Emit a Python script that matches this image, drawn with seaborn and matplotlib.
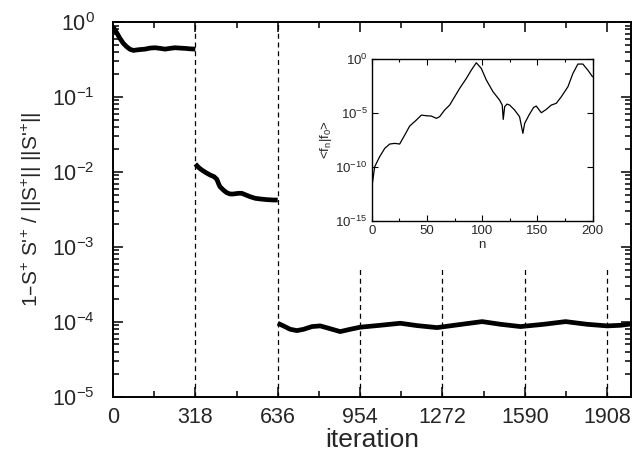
import numpy as np
import pandas as pd
import matplotlib
matplotlib.use("Agg")
import matplotlib.pyplot as plt
import matplotlib.ticker as mticker
import matplotlib.font_manager as fm
import seaborn as sns

sns.set_theme(style="ticks")
plt.rcParams['font.family'] = ['Liberation Sans', 'DejaVu Sans']
plt.rcParams['mathtext.default'] = 'regular'

names = {f.name for f in fm.fontManager.ttflist}
narrow = 'Liberation Sans Narrow' if 'Liberation Sans Narrow' in names else 'Liberation Sans'

# ---- main curve data (three restarts) ----
seg1_iter = [0, 8, 18, 27, 40, 53, 66, 79, 98, 124, 143, 162, 182, 201, 220, 239, 259, 278, 297, 318]
seg1_val = [0.867, 0.782, 0.685, 0.605, 0.52, 0.469, 0.433, 0.419, 0.428, 0.436, 0.45, 0.455,
            0.446, 0.436, 0.446, 0.455, 0.45, 0.446, 0.44, 0.436]

seg2_iter = [318, 330, 343, 359, 375, 390, 401, 407, 413, 426, 439, 452, 465, 484, 497, 510,
             529, 549, 568, 594, 620, 636]
seg2_val = [0.0128, 0.01153, 0.01063, 0.0098, 0.00912, 0.00867, 0.00798, 0.00706, 0.00637,
            0.00575, 0.0053, 0.00509, 0.00509, 0.0052, 0.0052, 0.00499, 0.00469, 0.00446,
            0.00437, 0.00428, 0.00423, 0.00423]

seg3_iter = [636, 658, 684, 710, 736, 768, 800, 832, 877, 916, 954, 1032, 1109, 1174, 1251,
             1328, 1425, 1496, 1573, 1663, 1747, 1830, 1908, 1959, 2000]
seg3_val = [9.6e-5, 8.85e-5, 7.98e-5, 7.66e-5, 7.98e-5, 8.67e-5, 8.85e-5, 8.24e-5, 7.43e-5,
            7.98e-5, 8.5e-5, 9.02e-5, 9.6e-5, 8.93e-5, 8.4e-5, 9.12e-5, 1.01e-4, 9.3e-5,
            8.67e-5, 9.3e-5, 1.01e-4, 9.3e-5, 8.85e-5, 9.02e-5, 9.4e-5]

restarts_full = [318, 636]
restarts_short = [954, 1272, 1590, 1908]
xtick_vals = [0, 318, 636, 954, 1272, 1590, 1908]

# ---- inset data: overlap <f_n|f_0>, given as log10 exponents ----
inset_n = [0.6, 2.7, 7.2, 11.8, 16.3, 20.8, 25.3, 29.9, 34.4, 40.4, 45, 49.5, 54, 58.5, 61.5,
           66, 70.6, 75.1, 79.6, 85.7, 90.2, 94.7, 99.2, 103.8, 109.8, 115.8, 118.2, 119.1,
           120.4, 122.5, 124.9, 129.4, 133.9, 136.9, 138.5, 142.4, 146.6, 149, 153.6, 158.1,
           162.6, 167.1, 171.7, 177.7, 182.2, 186.7, 191.2, 195.7, 200]
inset_log = [-11.51, -9.97, -9.04, -8.27, -7.87, -7.81, -7.87, -7.04, -6.2, -5.65, -5.19,
             -5.25, -5.28, -5.49, -5.34, -4.72, -4.26, -3.49, -2.72, -1.79, -1.02, -0.34,
             -0.86, -1.94, -3.02, -3.8, -4.26, -5.59, -4.41, -4.17, -4.26, -4.72, -5.34,
             -6.88, -5.96, -5.19, -4.48, -4.35, -4.97, -4.66, -4.26, -4.1, -3.49, -2.56,
             -1.33, -0.46, -0.46, -1.02, -1.64]

df1 = pd.DataFrame({"it": seg1_iter, "v": seg1_val})
df2 = pd.DataFrame({"it": seg2_iter, "v": seg2_val})
df3 = pd.DataFrame({"it": seg3_iter, "v": seg3_val})
dfi = pd.DataFrame({"n": inset_n, "ov": 10.0 ** np.array(inset_log)})

fig = plt.figure(figsize=(6.42, 4.51), dpi=100)
ax = fig.add_axes([0.176, 0.120, 0.807, 0.831])

for d in (df1, df2, df3):
    sns.lineplot(data=d, x="it", y="v", ax=ax, color="black", linewidth=3.4,
                 estimator=None, sort=False)
for ln in ax.lines:
    ln.set_solid_joinstyle("round")
    ln.set_solid_capstyle("butt")

ax.set_yscale("log")
ax.set_xlim(0, 2000)
ax.set_ylim(1e-5, 1)

for x in restarts_full:
    ax.axvline(x, color="black", linewidth=0.9, linestyle=(0, (4, 3)))
for x in restarts_short:
    ax.axvline(x, ymin=0, ymax=0.341, color="black", linewidth=0.9, linestyle=(0, (4, 3)))

ax.set_xticks(xtick_vals)
ax.set_xticklabels([str(v) for v in xtick_vals])
ax.xaxis.set_minor_locator(mticker.MultipleLocator(159))
ax.yaxis.set_major_locator(mticker.LogLocator(base=10, numticks=10))
ax.yaxis.set_minor_locator(mticker.LogLocator(base=10, subs=np.arange(2, 10), numticks=20))
ax.yaxis.set_minor_formatter(mticker.NullFormatter())
ax.tick_params(which="both", direction="in", top=True, right=True, width=1.1, color="black")
ax.tick_params(which="major", length=7, labelsize=15.5)
ax.tick_params(axis="y", which="major", pad=13)
ax.tick_params(axis="x", which="major", pad=7)
ax.tick_params(which="minor", length=4.5)
for s in ax.spines.values():
    s.set_linewidth(1.4)
    s.set_color("black")

ax.set_xlabel("iteration", fontsize=19, labelpad=0)
ax.set_ylabel("1–S$^{+}$ S'$^{+}$ / ||S$^{+}$|| ||S'$^{+}$||", fontsize=15, family=narrow,
              labelpad=6)

# ---- inset ----
axi = fig.add_axes([0.579, 0.510, 0.344, 0.359])
sns.lineplot(data=dfi, x="n", y="ov", ax=axi, color="black", linewidth=0.9,
             estimator=None, sort=False)
axi.set_yscale("log")
axi.set_xlim(0, 200)
axi.set_ylim(1e-15, 1)
axi.set_xticks([0, 50, 100, 150, 200])
axi.xaxis.set_minor_locator(mticker.MultipleLocator(25))
axi.set_yticks([1e-15, 1e-10, 1e-5, 1e0])
axi.yaxis.set_minor_locator(mticker.NullLocator())
axi.tick_params(which="both", direction="in", top=True, right=True, width=0.8, color="black")
axi.tick_params(which="major", length=4, labelsize=9.5, pad=3)
axi.tick_params(which="minor", length=2.5)
for s in axi.spines.values():
    s.set_linewidth(1.0)
    s.set_color("black")
axi.set_xlabel("n", fontsize=9.5, labelpad=1)
axi.set_ylabel("<f$_n$|f$_0$>", fontsize=9.5, labelpad=1)

fig.savefig("out.png", dpi=100)
